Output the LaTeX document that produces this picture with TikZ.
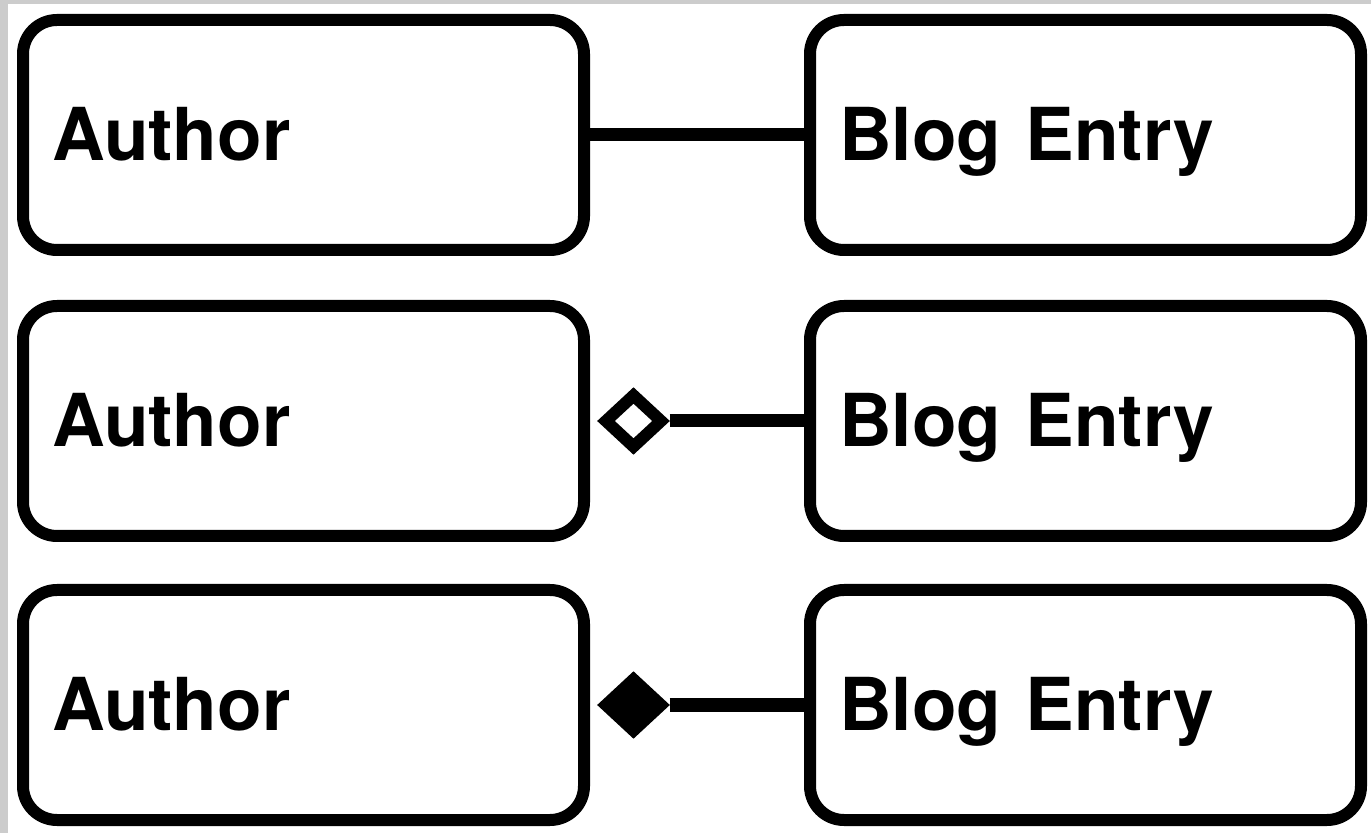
\documentclass[tikz,border=0pt]{standalone}
\usepackage{fontspec}
\setmainfont{TeX Gyre Heros}
\usetikzlibrary{shapes.geometric}
\definecolor{frame}{RGB}{204,204,204}
\begin{document}
\begin{tikzpicture}[x=0.5pt,y=-0.5pt,
  boxbase/.style={draw, line width=6pt, rounded corners=17pt, inner xsep=14.5pt,
    minimum height=115pt, text height=26pt, text depth=0pt, align=left,
    font=\bfseries\fontsize{36.5}{40}\selectfont},
  lbox/.style={boxbase, minimum width=280.5pt, text width=251.5pt},
  rbox/.style={boxbase, minimum width=275.5pt, text width=246.5pt},
  link/.style={line width=6.5pt},
  dia/.style={diamond, draw, line width=6pt, miter limit=4, inner sep=0pt,
    minimum width=30pt, minimum height=28pt},
  aggr/.style={dia, fill=white},
  comp/.style={dia, fill=black}]
\fill[white] (0,0) rectangle (1371,833);
\useasboundingbox (0,0) rectangle (1371,833);
\fill[frame] (0,0) rectangle (1371,4);
\fill[frame] (0,0) rectangle (8,833);

\node[lbox] (a1) at (303.5,135) {Author};
\node[rbox] (b1) at (1085.5,135) {Blog Entry};
\node[lbox] (a2) at (303.5,421) {Author};
\node[rbox] (b2) at (1085.5,421) {Blog Entry};
\node[lbox] (a3) at (303.5,705) {Author};
\node[rbox] (b3) at (1085.5,705) {Blog Entry};

\node[aggr] (d2) at (633.5,421) {};
\node[comp] (d3) at (633.5,705) {};

\draw[link] (a1.east) -- (b1.west);
\draw[link] (d2.east) -- (b2.west);
\draw[link] (d3.east) -- (b3.west);
\end{tikzpicture}
\end{document}
